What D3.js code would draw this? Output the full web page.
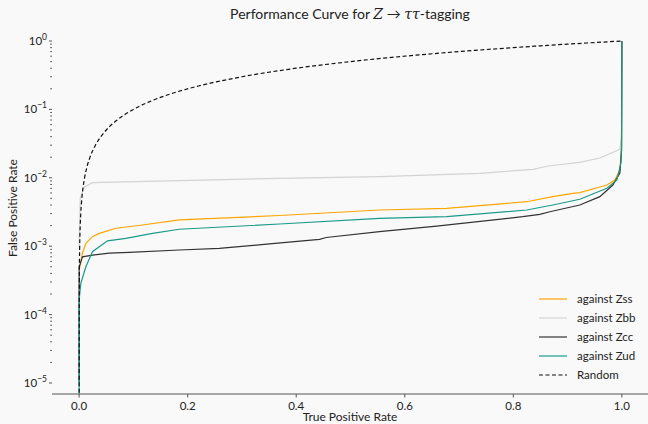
<!DOCTYPE html>
<html lang="en">
<head>
<meta charset="UTF-8" />
<title>Performance Curve</title>
<style>
  body { margin: 0; background: #f9f9f9; font-family: Lato, "Open Sans", sans-serif; }
  svg { display: block; }
  .tick-label { font-size: 11.5px; fill: #222; }
  .axis-label { font-size: 12px; fill: #222; }
  .legend text { font-size: 11.5px; fill: #222; }
</style>
</head>
<body>
<svg width="648" height="424"></svg>
<script src="https://d3js.org/d3.v7.min.js"></script>
<script>
// Data (x = true positive rate, y = false positive rate)
const againstZss = [[0,0.00045],[0.0013,0.0005],[0.0061,0.00079],[0.0124,0.0011],[0.0245,0.00138],[0.0369,0.00154],
  [0.0677,0.00183],[0.1168,0.00204],[0.1845,0.00242],[0.369,0.00281],[0.5535,0.00338],[0.677,0.00358],
  [0.8247,0.00447],[0.8727,0.0053],[0.9096,0.00593],[0.9225,0.00606],[0.9723,0.00785],[0.9871,0.00929],
  [0.9963,0.013],[0.9994,0.025],[1,1]];
const againstZbb = [[0,0.001],[0.002,0.005],[0.009,0.0073],[0.0245,0.0085],[0.1845,0.0091],[0.369,0.0098],
  [0.5535,0.01038],[0.738,0.01164],[0.836,0.0133],[0.867,0.0150],[0.9225,0.0168],[0.9594,0.0195],
  [0.9963,0.0261],[0.9994,0.04],[1,1]];
const againstZcc = [[0,0.00001],[0,0.0005],[0.0013,0.00053],[0.0061,0.0007],[0.0245,0.00074],[0.0554,0.00079],
  [0.0923,0.00081],[0.1845,0.00088],[0.2583,0.00093],[0.3506,0.00108],[0.4428,0.00126],[0.4552,0.00134],
  [0.5535,0.00163],[0.6587,0.00197],[0.8173,0.0027],[0.849,0.00292],[0.8672,0.00319],[0.9225,0.004],
  [0.9594,0.0053],[0.9834,0.00785],[0.9963,0.01175],[0.9994,0.025],[1,1]];
const againstZud = [[0,0.000001],[0,0.000163],[0.0031,0.000287],[0.0124,0.0005],[0.0245,0.00083],[0.0522,0.0012],
  [0.0862,0.0013],[0.1352,0.00154],[0.1845,0.00177],[0.369,0.00211],[0.5535,0.00256],[0.677,0.0027],
  [0.8247,0.00338],[0.8727,0.004],[0.9225,0.00485],[0.9723,0.00702],[0.9908,0.00929],[0.9982,0.01645],
  [0.9994,0.03],[1,1]];
const random = [[0,0.000001],[0.0001,0.0001],[0.0005,0.0005],[0.001,0.001],[0.002,0.002],[0.003,0.003],
  [0.005,0.005],[0.0075,0.0075],[0.01,0.01],[0.015,0.015],[0.02,0.02],[0.03,0.03],[0.04,0.04],[0.05,0.05],
  [0.07,0.07],[0.1,0.1],[0.13,0.13],[0.17,0.17],[0.22,0.22],[0.3,0.3],[0.4,0.4],[0.5,0.5],[0.6,0.6],
  [0.7,0.7],[0.8,0.8],[0.9,0.9],[1,1]];

const seriesNames = ["against Zss", "against Zbb", "against Zcc", "against Zud", "Random"];
const seriesData = [againstZss, againstZbb, againstZcc, againstZud, random];
const seriesColors = ["#ffa500", "#d3d3d3", "#333333", "#1a9a8b", "#111111"];

const xTicks = [0, 0.2, 0.4, 0.6, 0.8, 1.0];
const yTickExps = [0, -1, -2, -3, -4, -5];

const svg = d3.select("svg");
const plotLeft = 52, plotRight = 649, plotTop = 28, plotBottom = 394;

const x = d3.scaleLinear().domain([-0.05, 1.05]).range([plotLeft, plotRight]);
// 10^0 at y=41, 10^-5 at y=383
const y = d3.scaleLog().domain([1e-5, 1]).range([383, 41]);

svg.append("defs").append("clipPath").attr("id", "plot")
  .append("rect").attr("x", plotLeft).attr("y", plotTop)
  .attr("width", plotRight - plotLeft).attr("height", plotBottom - plotTop);

// Title
const title = svg.append("text")
  .attr("x", 350).attr("y", 19)
  .attr("text-anchor", "middle")
  .style("font-size", "14px").style("fill", "#222");
title.append("tspan").text("Performance Curve for ");
title.append("tspan").style("font-style", "italic").style("font-family", "'DejaVu Serif', serif").text("Z");
title.append("tspan").text(" \u2192 ");
title.append("tspan").style("font-style", "italic").style("font-family", "'DejaVu Serif', serif").text("\u03c4\u03c4");
title.append("tspan").text("-tagging");

// Bottom spine and x ticks
svg.append("line").attr("x1", plotLeft).attr("x2", 648).attr("y1", plotBottom).attr("y2", plotBottom)
  .attr("stroke", "#555").attr("stroke-width", 1);
const xt = svg.append("g").selectAll("g").data(xTicks).join("g")
  .attr("transform", d => `translate(${x(d)},0)`);
xt.append("line").attr("y1", plotBottom).attr("y2", plotBottom + 3.5).attr("stroke", "#555");
xt.append("text").attr("class", "tick-label").attr("y", plotBottom + 16)
  .attr("text-anchor", "middle").text(d => d.toFixed(1));

// y ticks (no spine)
const minor = [];
yTickExps.forEach(e => { if (e < 0) for (let m = 2; m <= 9; m++) minor.push(m * Math.pow(10, e)); });
svg.append("g").selectAll("line").data(minor).join("line")
  .attr("x1", plotLeft - 1.8).attr("x2", plotLeft).attr("y1", d => y(d)).attr("y2", d => y(d))
  .attr("stroke", "#444").attr("stroke-width", 0.9);
const yt = svg.append("g").selectAll("g").data(yTickExps).join("g")
  .attr("transform", d => `translate(0,${y(Math.pow(10, d))})`);
yt.append("line").attr("x1", plotLeft - 3).attr("x2", plotLeft).attr("stroke", "#444").attr("stroke-width", 0.9);
const ylab = yt.append("text").attr("class", "tick-label").attr("x", plotLeft - 5).attr("y", 4)
  .attr("text-anchor", "end");
ylab.append("tspan").text("10");
ylab.append("tspan").attr("dy", -5).style("font-size", "8.5px")
  .text(d => d === 0 ? "0" : "\u2212" + Math.abs(d));

// Axis labels
svg.append("text").attr("class", "axis-label").attr("x", 350).attr("y", 421)
  .attr("text-anchor", "middle").text("True Positive Rate");
svg.append("text").attr("class", "axis-label")
  .attr("transform", "translate(17,208) rotate(-90)")
  .attr("text-anchor", "middle").text("False Positive Rate");

// Curves
const line = d3.line().x(d => x(d[0])).y(d => y(Math.max(d[1], 1e-7)));
const smooth = d3.line().x(d => x(d[0])).y(d => y(Math.max(d[1], 1e-7))).curve(d3.curveMonotoneX);
const plot = svg.append("g").attr("clip-path", "url(#plot)");
seriesData.forEach((data, i) => {
  const isRandom = seriesNames[i] === "Random";
  plot.append("path").datum(data)
    .attr("fill", "none")
    .attr("stroke", seriesColors[i])
    .attr("stroke-width", 1.2)
    .attr("stroke-dasharray", isRandom ? "4,2.5" : null)
    .attr("d", isRandom ? smooth : line);
});

// Legend
const legend = svg.append("g").attr("class", "legend");
const rows = legend.selectAll("g").data(seriesNames).join("g")
  .attr("transform", (d, i) => `translate(539,${299 + i * 19})`);
rows.append("line").attr("x1", 0).attr("x2", 28)
  .attr("stroke", (d, i) => seriesColors[i]).attr("stroke-width", 1.2)
  .attr("stroke-dasharray", d => d === "Random" ? "4,2.5" : null);
rows.append("text").attr("x", 38).attr("y", 4).text(d => d);
</script>
</body>
</html>
